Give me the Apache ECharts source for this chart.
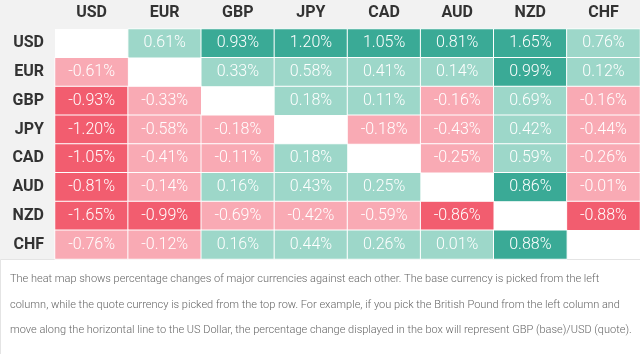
<!DOCTYPE html>
<html>
<head>
<meta charset="utf-8">
<script src="https://cdn.jsdelivr.net/npm/echarts@6/dist/echarts.min.js"></script>
<style>
  html, body { margin: 0; padding: 0; background: #f2f2f2; }
  #chart { width: 640px; height: 354px; }
</style>
</head>
<body>
<div id="chart"></div>
<script>
// currencies: quote along the top, base down the left
const quotes = ["USD", "EUR", "GBP", "JPY", "CAD", "AUD", "NZD", "CHF"];
const bases = ["USD", "EUR", "GBP", "JPY", "CAD", "AUD", "NZD", "CHF"];

// percentage change per base row (null = same currency)
const rowUSD = [null, 0.61, 0.93, 1.20, 1.05, 0.81, 1.65, 0.76];
const rowEUR = [-0.61, null, 0.33, 0.58, 0.41, 0.14, 0.99, 0.12];
const rowGBP = [-0.93, -0.33, null, 0.18, 0.11, -0.16, 0.69, -0.16];
const rowJPY = [-1.20, -0.58, -0.18, null, -0.18, -0.43, 0.42, -0.44];
const rowCAD = [-1.05, -0.41, -0.11, 0.18, null, -0.25, 0.59, -0.26];
const rowAUD = [-0.81, -0.14, 0.16, 0.43, 0.25, null, 0.86, -0.01];
const rowNZD = [-1.65, -0.99, -0.69, -0.42, -0.59, -0.86, null, -0.88];
const rowCHF = [-0.76, -0.12, 0.16, 0.44, 0.26, 0.01, 0.88, null];

const footerLines = [
  "The heat map shows percentage changes of major currencies against each other. The base currency is picked from the left",
  "column, while the quote currency is picked from the top row. For example, if you pick the British Pound from the left column and",
  "move along the horizontal line to the US Dollar, the percentage change displayed in the box will represent GBP (base)/USD (quote)."
];

const rows = [rowUSD, rowEUR, rowGBP, rowJPY, rowCAD, rowAUD, rowNZD, rowCHF];
const cells = [];
rows.forEach((r, y) => r.forEach((v, x) => {
  if (v !== null) cells.push([x, y, v]);
}));

const chart = echarts.init(document.getElementById("chart"), null, { renderer: "canvas" });

chart.setOption({
  backgroundColor: "#f2f2f2",
  textStyle: { fontFamily: "Roboto" },
  grid: {
    left: 55, right: 0, top: 29, bottom: 95,
    show: true, backgroundColor: "#fff", borderWidth: 0
  },
  xAxis: {
    type: "category",
    position: "top",
    data: quotes,
    axisLine: { show: false },
    axisTick: { show: false },
    splitLine: { show: false },
    axisLabel: { color: "#333", fontSize: 16, fontWeight: "bold", margin: 8 }
  },
  yAxis: {
    type: "category",
    inverse: true,
    data: bases,
    axisLine: { show: false },
    axisTick: { show: false },
    splitLine: { show: false },
    axisLabel: { color: "#333", fontSize: 16, fontWeight: "bold", margin: 11 }
  },
  visualMap: {
    type: "piecewise",
    show: false,
    dimension: 2,
    pieces: [
      { lt: -0.8, color: "#f25d6f" },
      { gte: -0.8, lt: 0, color: "#f9aab4" },
      { gte: 0, lt: 0.8, color: "#9dd7c9" },
      { gte: 0.8, color: "#3aaa96" }
    ]
  },
  series: [{
    type: "heatmap",
    data: cells,
    itemStyle: { borderColor: "#fff", borderWidth: 1 },
    label: {
      show: true,
      color: "#fff",
      fontSize: 16,
      fontWeight: 300,
      formatter: (p) => p.value[2].toFixed(2) + "%"
    },
    emphasis: { disabled: true }
  }],
  graphic: [
    {
      type: "rect",
      left: 0, top: 259,
      shape: { width: 640, height: 95 },
      style: { fill: "#fff", stroke: "#e4e4e4", lineWidth: 1 },
      z: 0
    },
    ...footerLines.map((t, i) => ({
      type: "text",
      left: 10,
      top: 274 + i * 25.5,
      style: {
        text: t,
        fill: "#666",
        font: "300 11px Roboto"
      }
    }))
  ]
});
</script>
</body>
</html>
